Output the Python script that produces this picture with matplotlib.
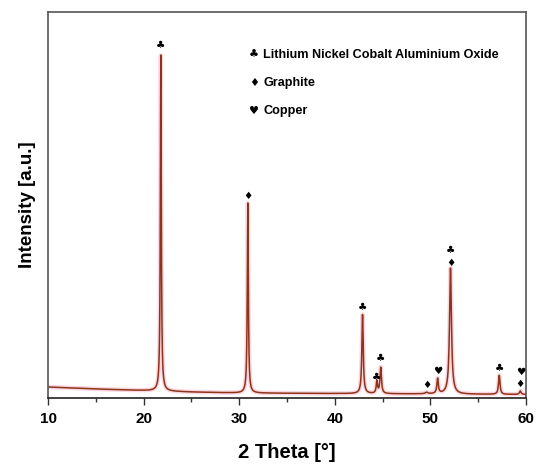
import numpy as np
import matplotlib.pyplot as plt

plt.rcParams['font.family'] = ['Liberation Sans', 'DejaVu Sans']

# Reflexes: position [deg], height above background [a.u.], half width [deg]
peak_pos = [21.8, 30.9, 42.9, 44.4, 44.8, 49.6, 50.75, 52.1, 57.2, 59.4]
peak_height = [336, 190, 79, 12, 26, 1.5, 15, 126, 19, 3.5]
peak_hwhm = [0.06, 0.065, 0.085, 0.08, 0.09, 0.15, 0.09, 0.12, 0.09, 0.1]

# background level
bg_angle = [10, 15, 20, 25, 30, 40, 50, 60]
bg_level = [11, 9, 7.5, 6, 5, 4.5, 4, 3.5]

# phase markers: angle, symbol, height
mark_angle = [21.8, 30.9, 42.9, 44.4, 44.8, 49.6, 50.75, 52.1, 52.1, 57.2, 59.4, 59.4]
mark_symbol = ['♣', '♦', '♣', '♣', '♣', '♦', '♥', '♣', '♦', '♣', '♥', '♦']
mark_height = [353, 202, 91, 21, 40, 13, 27, 148, 135.5, 30, 26.5, 14]

legend_symbol = ['♣', '♦', '♥']
legend_text = ['Lithium Nickel Cobalt Aluminium Oxide', 'Graphite', 'Copper']

two_theta = np.linspace(10, 60, 5001)
intensity = np.interp(two_theta, bg_angle, bg_level)
for p, h, w in zip(peak_pos, peak_height, peak_hwhm):
    intensity = intensity + h / (1 + ((two_theta - p) / w) ** 2)

fig = plt.figure(figsize=(5.5, 4.66), dpi=100)
ax = fig.add_axes([0.0873, 0.1459, 0.8691, 0.8283])

ax.plot(two_theta, intensity, color='#fad6e0', lw=3.2, solid_capstyle='round')
ax.plot(two_theta, intensity, color='#8e3418', lw=1.1)

for a, s, h in zip(mark_angle, mark_symbol, mark_height):
    ax.text(a, h, s, ha='center', va='center', fontsize=7.5, family='DejaVu Sans')

for i, (s, t) in enumerate(zip(legend_symbol, legend_text)):
    y = 0.889 - i * 0.0725
    ax.text(0.431, y, s, transform=ax.transAxes, ha='center', va='center',
            fontsize=8, family='DejaVu Sans')
    ax.text(0.45, y, t, transform=ax.transAxes, ha='left', va='center',
            fontsize=9.1, fontweight='bold')

ax.set_xlim(10, 60)
ax.set_ylim(0, 386)
ax.set_xticks([10, 20, 30, 40, 50, 60])
ax.set_xticks([15, 25, 35, 45, 55], minor=True)
ax.set_yticks([])
ax.tick_params(axis='x', which='major', direction='out', length=5, width=1,
               labelsize=11, pad=5, color='#333333')
ax.tick_params(axis='x', which='minor', direction='out', length=3, width=1, color='#333333')
for lab in ax.get_xticklabels():
    lab.set_fontweight('bold')
for sp in ax.spines.values():
    sp.set_color('#555555')
    sp.set_linewidth(1.2)
ax.spines['bottom'].set_color('#222222')

ax.set_xlabel('2 Theta [°]', fontsize=14.5, fontweight='bold', labelpad=12)
ax.set_ylabel('Intensity [a.u.]', fontsize=13.5, fontweight='bold', labelpad=9)

fig.savefig('out.png', dpi=100)
